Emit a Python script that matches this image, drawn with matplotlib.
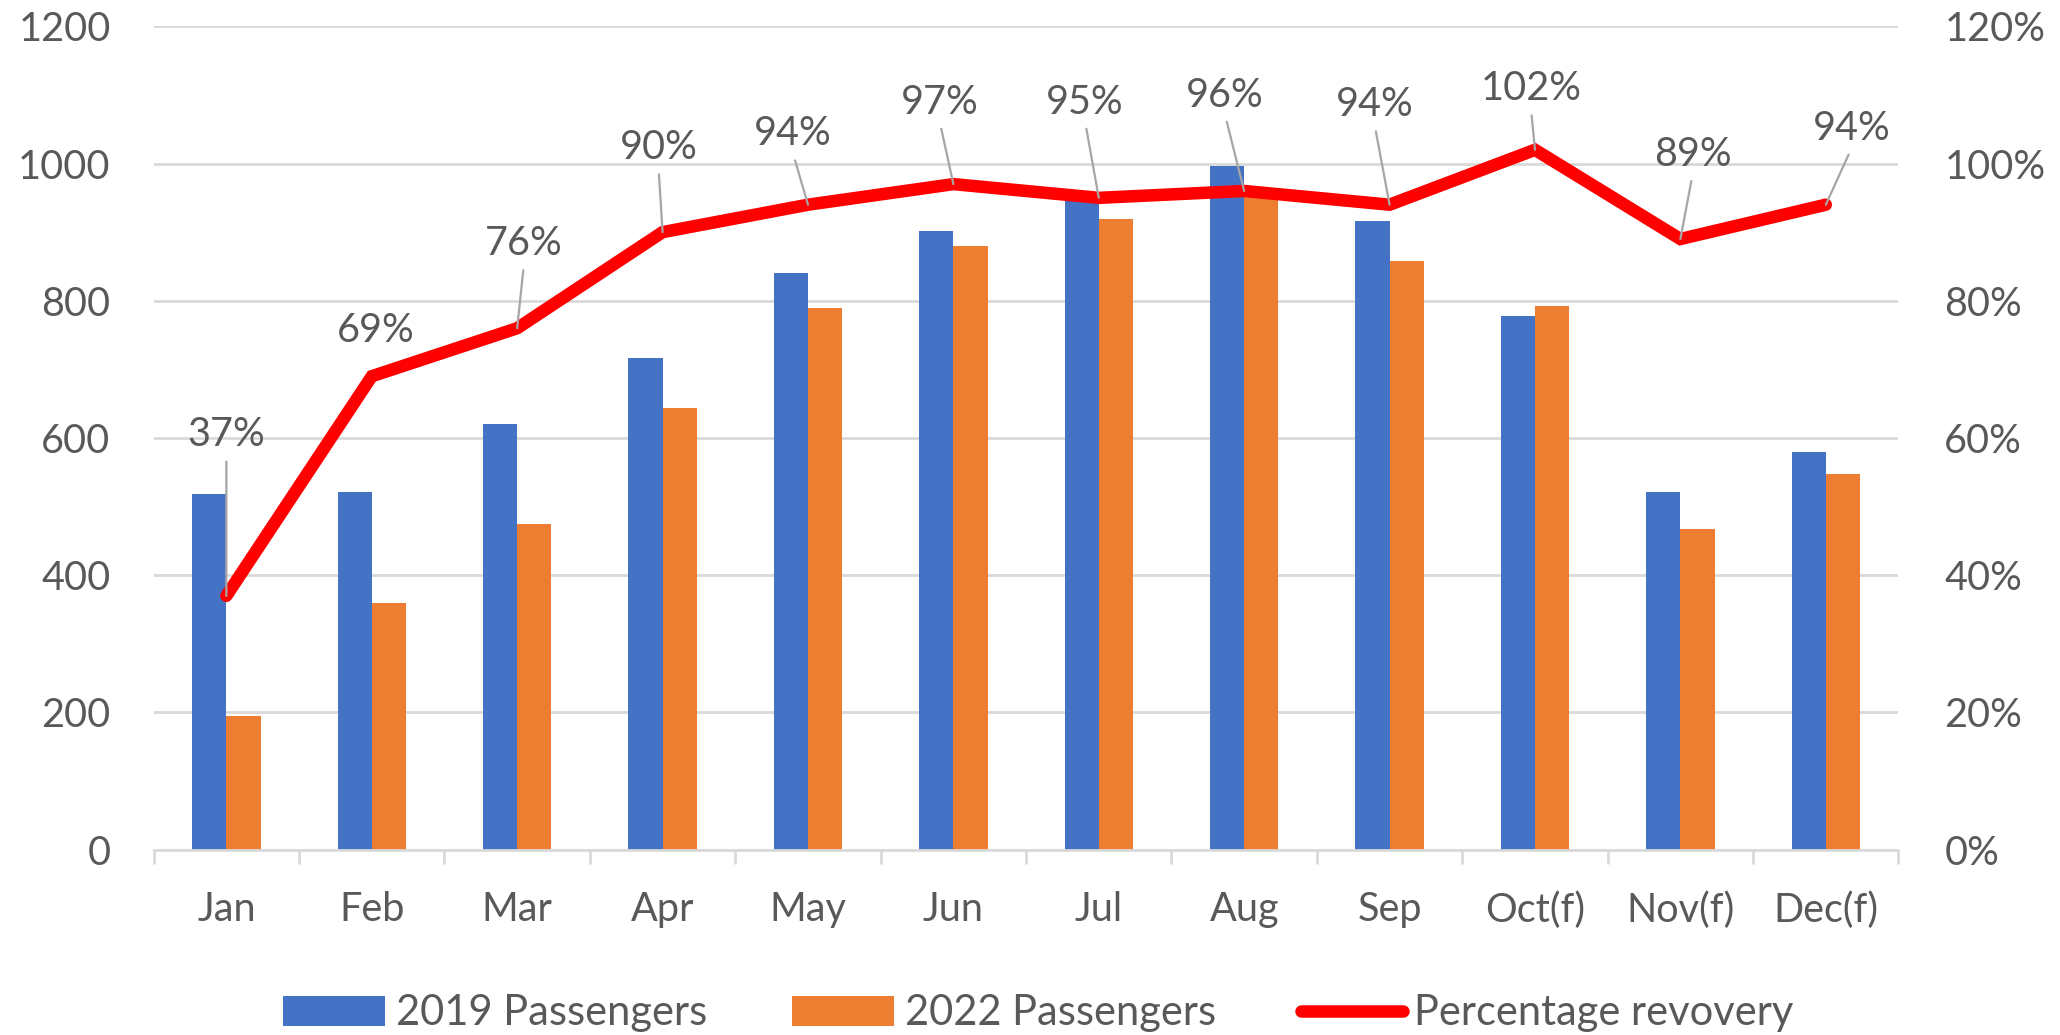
import matplotlib
matplotlib.use("Agg")
import matplotlib.pyplot as plt
from matplotlib.ticker import PercentFormatter
import numpy as np

plt.rcParams['font.family'] = ['Lato', 'DejaVu Sans']

# values
months = ["Jan", "Feb", "Mar", "Apr", "May", "Jun", "Jul", "Aug", "Sep",
          "Oct(f)", "Nov(f)", "Dec(f)"]
pax_2019 = [519, 522, 620, 717, 840, 901, 955, 996, 916, 778, 522, 580]
pax_2022 = [195, 359, 475, 644, 789, 880, 919, 955, 858, 793, 467, 547]
recovery = [0.37, 0.69, 0.76, 0.90, 0.94, 0.97, 0.95, 0.96, 0.94, 1.02, 0.89, 0.94]

# where Excel left each data label (offset from the point, in points)
label_offsets = [(0, 116), (3, 33), (5, 61), (-3, 61), (-11, 51), (-10, 59),
                 (-10, 69), (-14, 69), (-11, 72), (-3, 44), (9, 61), (19, 55)]

blue = "#4472C4"
orange = "#ED7D31"
red = "#FF0000"
grid_c = "#D9D9D9"
txt_c = "#595959"
fs = 28.5

fig = plt.figure(figsize=(20.6, 10.35), dpi=100)
ax = fig.add_axes([0.0746, 0.179, 0.847, 0.7956])

x = np.arange(len(months))
w = 0.235
b1 = ax.bar(x - w / 2, pax_2019, w, color=blue, label="2019 Passengers")
b2 = ax.bar(x + w / 2, pax_2022, w, color=orange, label="2022 Passengers")

ax.set_xlim(-0.5, len(months) - 0.5)
ax.set_ylim(0, 1200)
ax.set_yticks(np.arange(0, 1201, 200))
ax.yaxis.grid(True, color=grid_c, lw=2)
ax.set_axisbelow(True)
for s in ["top", "left", "right"]:
    ax.spines[s].set_visible(False)
ax.spines["bottom"].set_color(grid_c)
ax.spines["bottom"].set_linewidth(2)

ax.set_xticks(x)
ax.set_xticklabels(months)
ax.set_xticks(np.arange(-0.5, len(months), 1), minor=True)
ax.tick_params(axis="x", which="major", length=0, pad=30, labelsize=fs, labelcolor=txt_c)
ax.tick_params(axis="x", which="minor", length=10, width=2, color=grid_c)
ax.tick_params(axis="y", length=0, pad=31, labelsize=fs, labelcolor=txt_c)

ax2 = ax.twinx()
ax2.set_ylim(0, 1.2)
ax2.set_yticks(np.arange(0, 1.21, 0.2))
ax2.yaxis.set_major_formatter(PercentFormatter(1.0, decimals=0))
ax2.tick_params(axis="y", length=0, pad=33, labelsize=fs, labelcolor=txt_c)
for s in ax2.spines.values():
    s.set_visible(False)

ln, = ax2.plot(x, recovery, color=red, lw=9, solid_capstyle="round",
               solid_joinstyle="miter", label="Percentage revovery")

for i, v in enumerate(recovery):
    dx, dy = label_offsets[i]
    arrow = None
    if np.hypot(dx, dy) > 40:
        arrow = dict(arrowstyle="-", color="#A6A6A6", lw=1.6,
                     shrinkA=4, shrinkB=0, relpos=(0.5, 0))
    ax2.annotate(f"{v:.0%}", xy=(i, v), xytext=(dx, dy), textcoords="offset points",
                 ha="center", va="center", fontsize=fs, color=txt_c,
                 arrowprops=arrow)

fig.legend([b1, b2, ln], ["2019 Passengers", "2022 Passengers", "Percentage revovery"],
           loc="center", bbox_to_anchor=(0.504, 0.021), ncol=3, frameon=False,
           fontsize=30, handlelength=2.45, handleheight=0.72, handletextpad=0.25,
           columnspacing=2.05, labelcolor=txt_c)

fig.savefig("out.png", dpi=100)
